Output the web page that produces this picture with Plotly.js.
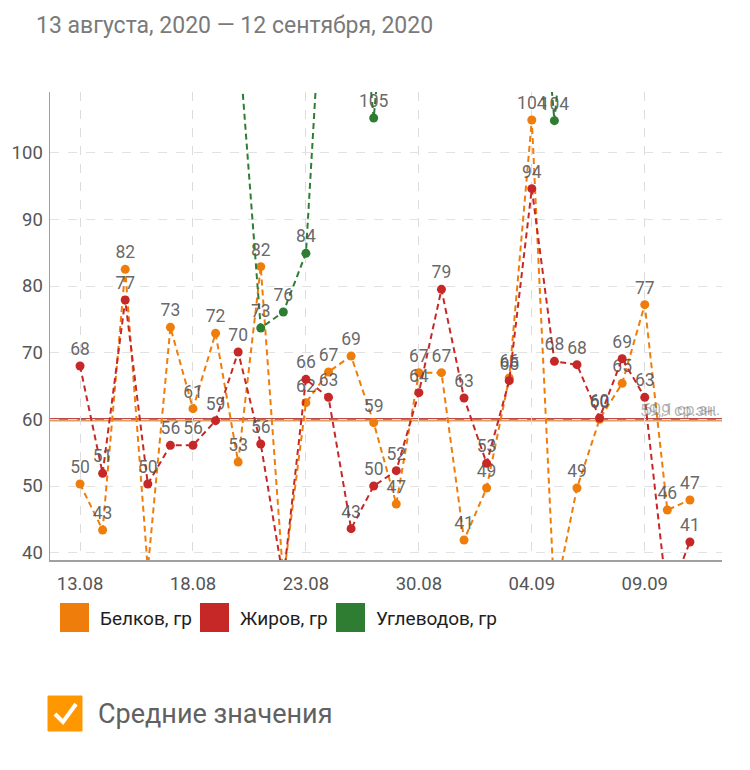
<!DOCTYPE html>
<html>
<head>
<meta charset="utf-8">
<script src="https://cdn.plot.ly/plotly-3.0.1.min.js"></script>
<style>
html,body{margin:0;padding:0;background:#fff;}
#chart{width:750px;height:770px;}
</style>
</head>
<body>
<div id="chart"></div>
<script>
// ---- data ----
const dates = ['13.08','14.08','15.08','16.08','17.08','18.08','19.08','20.08','21.08','22.08','23.08',
  '24.08','25.08','26.08','27.08','30.08','31.08','01.09','02.09','03.09','04.09',
  '05.09','06.09','07.09','08.09','09.09','10.09','11.09'];
const tickDates = ['13.08','18.08','23.08','30.08','04.09','09.09'];
const seriesNames = ['Белков, гр','Жиров, гр','Углеводов, гр'];
const seriesColors = ['#ef7d0b','#c62828','#2e7d32'];
const proteins = [50.3,43.4,82.5,37.5,73.8,61.6,72.9,53.6,82.9,36,62.5,67.1,69.5,59.5,47.3,67.0,67.0,41.9,49.7,66.2,104.9,33,49.7,60.0,65.4,77.2,46.4,47.9];
const fats = [68.0,51.9,77.9,50.3,56.1,56.1,59.8,70.1,56.3,36,66.0,63.3,43.6,50.0,52.3,64.0,79.5,63.2,53.4,65.8,94.6,68.7,68.2,60.2,69.1,63.3,33,41.6];
const carbs = [160,135,190,150,145,175,130,118,73.7,76.1,84.9,142,140,105.2,142,150,165,138,155,148,145,104.8,140,160,150,170,145,155];
const yTicks = [40,50,60,70,80,90,100];
const titleText = '13 августа, 2020 — 12 сентября, 2020';
const meanSuffix = ' ср.зн.';
const checkboxLabel = 'Средние значения';

// ---- layout helpers (pixel -> paper) ----
const L = 50, R = 722, T = 92, B = 560;
const Y_MIN = 38.9, Y_MAX = 109.1;
const px = x => (x - L) / (R - L);
const py = y => (B - y) / (B - T);

const allSeries = [proteins, fats, carbs];
const traces = allSeries.map((vals, i) => ({
  type: 'scatter',
  mode: 'lines+markers+text',
  x: dates,
  y: vals,
  text: vals.map(v => (v < Y_MIN || v > Y_MAX) ? '' : String(Math.floor(v + 1e-9))),
  textposition: 'top center',
  textfont: {family: 'Roboto, sans-serif', size: 17.5, color: 'rgba(85,85,85,0.9)'},
  line: {color: seriesColors[i], width: 2, dash: '6px,4px'},
  marker: {color: seriesColors[i], size: 9},
  cliponaxis: true,
  showlegend: false,
  hoverinfo: 'skip'
}));

const mean = a => a.reduce((s, v) => s + v, 0) / a.length;
const means = [mean(proteins), mean(fats)];
const fmt = v => v.toFixed(1).replace('.', ',');

const shapes = [];
const annotations = [];

// mean lines (protein and fat)
shapes.push({type:'line', xref:'paper', yref:'y', x0:0, x1:1, y0:means[0], y1:means[0],
  line:{color:'rgba(220,140,70,0.85)', width:3}, layer:'below'});
shapes.push({type:'line', xref:'paper', yref:'y', x0:0, x1:1, y0:means[1], y1:means[1],
  line:{color:'rgba(180,60,60,0.9)', width:1.5}, layer:'below'});
[1, 0].forEach((k, j) => {
  annotations.push({xref:'paper', yref:'y', x:1, y:means[k], xanchor:'right', yanchor:'bottom',
    text: fmt(means[k]) + meanSuffix, showarrow:false, xshift: -j*3, yshift: -2,
    font:{family:'Roboto, sans-serif', size:16, color:'rgba(120,120,120,0.55)'}});
});

// legend (custom square swatches)
const legendX = [60, 200, 336];
seriesNames.forEach((name, i) => {
  shapes.push({type:'rect', xref:'paper', yref:'paper',
    x0:px(legendX[i]), x1:px(legendX[i] + 29), y0:py(632), y1:py(603),
    fillcolor: seriesColors[i], line:{width:0}});
  annotations.push({xref:'paper', yref:'paper', x:px(legendX[i] + 38), y:py(618),
    xanchor:'left', yanchor:'middle', showarrow:false, text:name,
    font:{family:'Roboto, sans-serif', size:19, color:'#1e1e1e'}});
});

// checkbox
shapes.push({type:'rect', xref:'paper', yref:'paper',
  x0:px(48), x1:px(82), y0:py(731), y1:py(696), fillcolor:'#ff9800', line:{color:'#ff9800', width:1}});
shapes.push({type:'path', xref:'paper', yref:'paper',
  path:`M ${px(55)} ${py(714)} L ${px(63)} ${py(722)} L ${px(76)} ${py(704)}`,
  line:{color:'#ffffff', width:4}});
annotations.push({xref:'paper', yref:'paper', x:px(96), y:py(714), xanchor:'left', yanchor:'middle',
  showarrow:false, text:checkboxLabel, font:{family:'Roboto, sans-serif', size:27, color:'#616161'}});

const layout = {
  width: 750, height: 770,
  margin: {l: L, r: 750 - R, t: T, b: 770 - B},
  paper_bgcolor: '#fff', plot_bgcolor: '#fff',
  title: {text: titleText, x: 36/750, xanchor: 'left', xref: 'container',
    y: 1 - 25/770, yanchor: 'middle', yref: 'container',
    font: {family: 'Roboto, sans-serif', size: 23, color: '#7a7a7a'}},
  xaxis: {
    type: 'category', categoryorder: 'array', categoryarray: dates,
    range: [-1.33, 28.42],
    tickmode: 'array', tickvals: tickDates, ticktext: tickDates,
    showgrid: true, gridcolor: '#dcdcdc', griddash: 'dash', gridwidth: 1,
    showline: true, linecolor: '#a0a0a0', linewidth: 1.5,
    ticks: '', ticklen: 0, ticklabelstandoff: 6,
    tickfont: {family: 'Roboto, sans-serif', size: 18.5, color: '#555'},
    zeroline: false, fixedrange: true
  },
  yaxis: {
    range: [Y_MIN, Y_MAX],
    tickmode: 'array', tickvals: yTicks,
    showgrid: true, gridcolor: '#e2e2e2', griddash: 'dash', gridwidth: 1,
    showline: true, linecolor: '#a0a0a0', linewidth: 1.5,
    ticks: '', ticklen: 0, ticklabelstandoff: 2,
    tickfont: {family: 'Roboto, sans-serif', size: 18.5, color: '#555'},
    zeroline: false, fixedrange: true
  },
  shapes: shapes,
  annotations: annotations,
  showlegend: false
};

Plotly.newPlot('chart', traces, layout, {displayModeBar: false, staticPlot: true});
</script>
</body>
</html>
